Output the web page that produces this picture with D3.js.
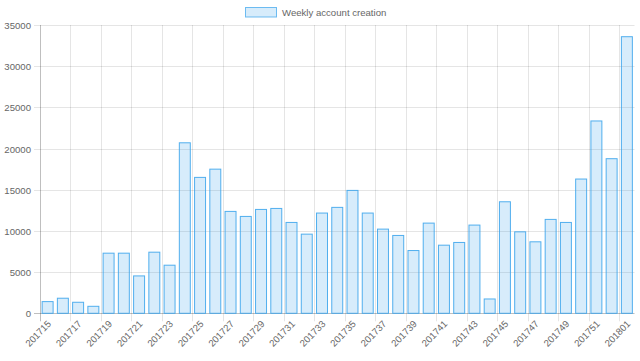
<!DOCTYPE html>
<html><head><meta charset="utf-8">
<script src="https://cdn.jsdelivr.net/npm/d3@7"></script>
<style>body{margin:0;background:#fff}svg{display:block}text{font-family:"Liberation Sans",Arial,Helvetica,sans-serif}</style>
</head><body>
<svg id="c" width="640" height="361"></svg>
<script>
const categories = ["201715","201716","201717","201718","201719","201720","201721","201722","201723","201724","201725","201726","201727","201728","201729","201730","201731","201732","201733","201734","201735","201736","201737","201738","201739","201740","201741","201742","201743","201744","201745","201746","201747","201748","201749","201750","201751","201752","201801"];
const values = [1420,1830,1340,850,7300,7300,4540,7420,5840,20700,16500,17500,12370,11760,12610,12730,11030,9610,12170,12860,14920,12170,10220,9450,7620,10950,8270,8600,10710,1740,13540,9890,8680,11400,11030,16300,23350,18770,33580];
const yTicks = [0,5000,10000,15000,20000,25000,30000,35000];
const seriesName = "Weekly account creation";

const svg = d3.select("#c");
const L = 40, R = 634.5, T = 25, B = 313.3;
const x = d3.scaleBand().domain(categories).range([L, R]).paddingInner(0).paddingOuter(0);
const y = d3.scaleLinear().domain([0, 35000]).range([B, T]);
const grid = "rgba(0,0,0,0.1)";
const tc = "#666";
const fs = "9.6px";

// horizontal grid + y ticks
const gy = svg.append("g");
yTicks.forEach(t => {
  const yy = Math.round(y(t)) + 0.5;
  gy.append("line").attr("x1", L - 6).attr("x2", R).attr("y1", yy).attr("y2", yy)
    .attr("stroke", t === 0 ? "rgba(0,0,0,0.25)" : grid).attr("stroke-width", 1);
  gy.append("text").attr("x", 31).attr("y", yy).attr("dy", "0.35em").attr("text-anchor", "end")
    .attr("fill", tc).style("font-size", fs).text(t);
});

// vertical grid at every second category boundary
const gx = svg.append("g");
categories.forEach((c, i) => {
  if (i % 2 !== 0) return;
  const xx = Math.round(x(c)) + 0.5;
  gx.append("line").attr("x1", xx).attr("x2", xx).attr("y1", T).attr("y2", B + 8)
    .attr("stroke", i === 0 ? "rgba(0,0,0,0.25)" : grid).attr("stroke-width", 1);
  const cx = x(c) + x.bandwidth() / 2;
  gx.append("text")
    .attr("transform", `translate(${cx + 2},${B + 9}) rotate(-46)`)
    .attr("text-anchor", "end").attr("dy", "0.3em")
    .attr("fill", tc).style("font-size", fs).text(c);
});

// bars
const bw = x.bandwidth() * 0.72;
svg.append("g").selectAll("rect").data(values).join("rect")
  .attr("x", (d, i) => x(categories[i]) + (x.bandwidth() - bw) / 2)
  .attr("y", d => y(d))
  .attr("width", bw)
  .attr("height", d => B - y(d))
  .attr("fill", "rgba(54,162,235,0.2)")
  .attr("stroke", "rgba(54,162,235,0.85)")
  .attr("stroke-width", 1);

// legend
const lg = svg.append("g");
lg.append("rect").attr("x", 245.5).attr("y", 7.5).attr("width", 31).attr("height", 9.5)
  .attr("fill", "rgba(54,162,235,0.2)").attr("stroke", "rgba(54,162,235,0.7)").attr("stroke-width", 1);
lg.append("text").attr("x", 282).attr("y", 12.5).attr("dy", "0.35em")
  .attr("fill", tc).style("font-size", fs).text(seriesName);
</script>
</body></html>
